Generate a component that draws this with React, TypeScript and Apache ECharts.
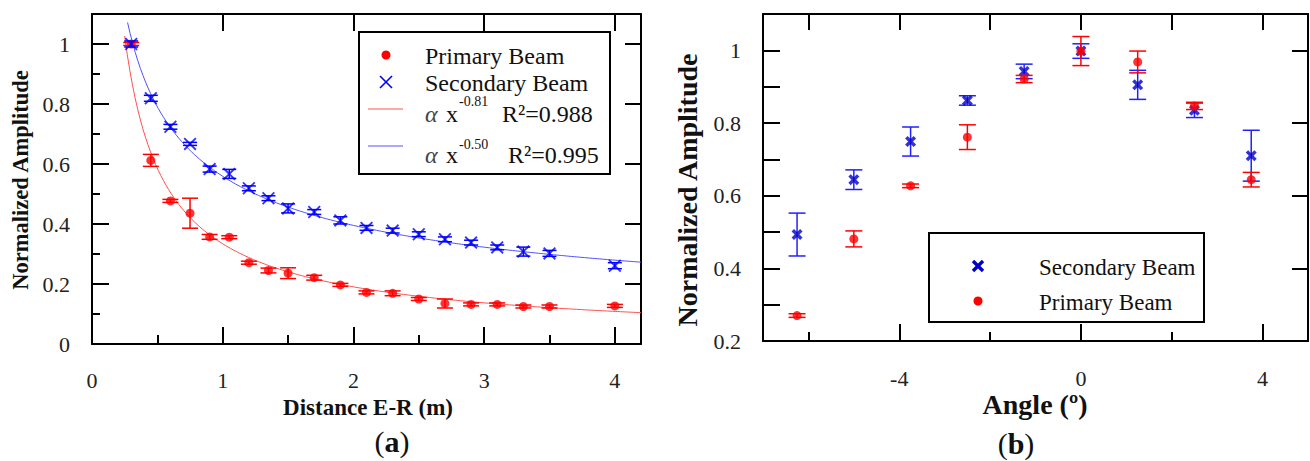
import React, { useEffect, useRef } from "react";
import * as echarts from "echarts";

// ---------- Data: panel (a) ----------
const distances = [0.3, 0.45, 0.6, 0.75, 0.9, 1.05, 1.2, 1.35, 1.5, 1.7, 1.9, 2.1, 2.3, 2.5, 2.7, 2.9, 3.1, 3.3, 3.5, 4.0];
const primaryByDistance = [1.0, 0.612, 0.477, 0.436, 0.357, 0.356, 0.271, 0.245, 0.236, 0.221, 0.197, 0.172, 0.169, 0.15, 0.135, 0.132, 0.132, 0.125, 0.125, 0.127];
const primaryByDistanceErr = [0.005, 0.02, 0.005, 0.05, 0.008, 0.005, 0.005, 0.008, 0.018, 0.008, 0.005, 0.005, 0.008, 0.005, 0.015, 0.005, 0.005, 0.005, 0.005, 0.005];
const secondaryByDistance = [1.0, 0.819, 0.724, 0.667, 0.583, 0.567, 0.519, 0.486, 0.452, 0.44, 0.412, 0.387, 0.378, 0.366, 0.349, 0.338, 0.322, 0.308, 0.302, 0.261];
const secondaryByDistanceErr = [0.01, 0.01, 0.008, 0.005, 0.01, 0.015, 0.008, 0.008, 0.015, 0.008, 0.012, 0.008, 0.008, 0.008, 0.008, 0.008, 0.008, 0.015, 0.01, 0.01];

// power-law fits shown in the legend: alpha * x^exponent
const primaryFit = { alpha: 0.334, exponent: -0.81, from: 0.25, to: 4.2 };
const secondaryFit = { alpha: 0.559, exponent: -0.5, from: 0.272, to: 4.2 };

// ---------- Data: panel (b) ----------
const angles = [-6.25, -5, -3.75, -2.5, -1.25, 0, 1.25, 2.5, 3.75];
const secondaryByAngle = [0.493, 0.644, 0.749, 0.862, 0.942, 0.998, 0.905, 0.835, 0.71];
const secondaryByAngleErr = [0.059, 0.027, 0.04, 0.013, 0.02, 0.02, 0.04, 0.02, 0.07];
const primaryByAngle = [0.27, 0.481, 0.627, 0.761, 0.921, 0.998, 0.968, 0.847, 0.644];
const primaryByAngleErr = [0.005, 0.022, 0.005, 0.034, 0.01, 0.04, 0.03, 0.01, 0.02];

// ---------- Ticks ----------
const aXLabels = [0, 1, 2, 3, 4];
const aXMajor = [1, 2, 3, 4];
const aXMinor = [0.5, 1.5, 2.5, 3.5];
const aYLabels = [0, 0.2, 0.4, 0.6, 0.8, 1];
const aYMajor = [0.2, 0.4, 0.6, 0.8, 1];
const aYMinor = [0.1, 0.3, 0.5, 0.7, 0.9];
const bXLabels = [-4, 0, 4];
const bXMinor = [-6, -2, 2];
const bXTop = [-6, -4, -2, 0, 2, 4];
const bYLabels = [0.2, 0.4, 0.6, 0.8, 1];
const bYTicks = [0.3, 0.4, 0.5, 0.6, 0.7, 0.8, 0.9, 1];
const bYRight = [0.4, 0.6, 0.8, 1];

const FONT = "Liberation Serif";
const RED = "#ff0000";
const BLUE = "#0000ff";
const NAVY = "#0000c8";

const X_THIN = "path://M1,0 L5,4 L9,0 L10,1 L6,5 L10,9 L9,10 L5,6 L1,10 L0,9 L4,5 L0,1 Z";
const X_BOLD = "path://M2.2,0 L5,2.8 L7.8,0 L10,2.2 L7.2,5 L10,7.8 L7.8,10 L5,7.2 L2.2,10 L0,7.8 L2.8,5 L0,2.2 Z";

function fitCurve(f: { alpha: number; exponent: number; from: number; to: number }) {
  const pts: number[][] = [];
  const n = 200;
  for (let i = 0; i <= n; i++) {
    const x = f.from + ((f.to - f.from) * i) / n;
    pts.push([x, f.alpha * Math.pow(x, f.exponent)]);
  }
  return pts;
}

function triples(xs: number[], ys: number[], es: number[]) {
  return xs.map((x, i) => [x, ys[i], es[i]]);
}

function errorRender(color: string, capHalf: number, width: number) {
  return (params: any, api: any) => {
    const x = api.value(0);
    const y = api.value(1);
    const e = api.value(2);
    const hi = api.coord([x, y + e]);
    const lo = api.coord([x, y - e]);
    const st = { stroke: color, lineWidth: width };
    return {
      type: "group",
      children: [
        { type: "line", shape: { x1: hi[0], y1: hi[1], x2: lo[0], y2: lo[1] }, style: st },
        { type: "line", shape: { x1: hi[0] - capHalf, y1: hi[1], x2: hi[0] + capHalf, y2: hi[1] }, style: st },
        { type: "line", shape: { x1: lo[0] - capHalf, y1: lo[1], x2: lo[0] + capHalf, y2: lo[1] }, style: st },
      ],
    };
  };
}

const axLine = { show: true, onZero: false, lineStyle: { color: "#000", width: 2 } };
const noLine = { show: false, onZero: false };
const tick = (vals: number[], len: number) => ({
  show: true,
  inside: true,
  length: len,
  customValues: vals,
  lineStyle: { color: "#000", width: 2 },
});
const label = (vals: number[], margin: number) => ({
  show: true,
  customValues: vals,
  margin,
  fontSize: 22,
  fontFamily: FONT,
  color: "#222",
});
const noLabel = { show: false };

function xAx(grid: number, min: number, max: number, position: string, line: any, t: any, l: any) {
  return { gridIndex: grid, type: "value", min, max, position, axisLine: line, axisTick: t, axisLabel: l, splitLine: { show: false } };
}
function yAx(grid: number, min: number, max: number, position: string, line: any, t: any, l: any) {
  return { gridIndex: grid, type: "value", min, max, position, axisLine: line, axisTick: t, axisLabel: l, splitLine: { show: false } };
}

function xGlyph(cx: number, cy: number, h: number, w: number, color: string) {
  return [
    { type: "line", shape: { x1: cx - h, y1: cy - h, x2: cx + h, y2: cy + h }, style: { stroke: color, lineWidth: w } },
    { type: "line", shape: { x1: cx - h, y1: cy + h, x2: cx + h, y2: cy - h }, style: { stroke: color, lineWidth: w } },
  ];
}

function txt(x: number, y: number, text: string, size: number, extra: any = {}) {
  return {
    type: "text",
    x,
    y,
    style: { text, fontSize: size, fontFamily: FONT, fill: "#111", verticalAlign: "middle", align: "left", ...extra },
  };
}

export default function App() {
  const ref = useRef<HTMLDivElement>(null);

  useEffect(() => {
    if (!ref.current) return;
    const chart = echarts.init(ref.current, null, { renderer: "svg" });

    const graphic: any[] = [
      // Left legend
      { type: "rect", shape: { x: 359, y: 32, width: 251, height: 142 }, style: { fill: "#fff", stroke: "#000", lineWidth: 2 }, z: 100 },
      { type: "circle", shape: { cx: 386, cy: 55, r: 4.5 }, style: { fill: RED }, z: 101 },
      ...xGlyph(386, 82, 6, 1.6, BLUE).map((g) => ({ ...g, z: 101 })),
      { type: "line", shape: { x1: 368, y1: 109, x2: 403, y2: 109 }, style: { stroke: "#ff8c8c", lineWidth: 1.5 }, z: 101 },
      { type: "line", shape: { x1: 368, y1: 146, x2: 403, y2: 146 }, style: { stroke: "#8c8cff", lineWidth: 1.5 }, z: 101 },
      { ...txt(425, 56, "Primary Beam", 24), z: 101 },
      { ...txt(425, 83, "Secondary Beam", 24), z: 101 },
      { ...txt(425, 114, "\u03b1", 24, { fontStyle: "italic", fill: "#444" }), z: 101 },
      { ...txt(446, 114, "x", 24), z: 101 },
      { ...txt(459, 101, "-0.81", 14), z: 101 },
      { ...txt(502, 114, "R\u00b2=0.988", 24), z: 101 },
      { ...txt(425, 155, "\u03b1", 24, { fontStyle: "italic", fill: "#444" }), z: 101 },
      { ...txt(446, 155, "x", 24), z: 101 },
      { ...txt(459, 144, "-0.50", 14), z: 101 },
      { ...txt(508, 155, "R\u00b2=0.995", 24), z: 101 },

      // Right legend
      { type: "rect", shape: { x: 929, y: 233, width: 275, height: 89 }, style: { fill: "#fff", stroke: "#000", lineWidth: 2 }, z: 100 },
      ...xGlyph(978, 266, 5, 3.4, NAVY).map((g) => ({ ...g, z: 101 })),
      { type: "circle", shape: { cx: 978, cy: 301, r: 4.5 }, style: { fill: RED }, z: 101 },
      { ...txt(1039, 267, "Secondary Beam", 23), z: 101 },
      { ...txt(1039, 302, "Primary Beam", 23), z: 101 },

      // Axis titles
      { type: "text", x: 20, y: 180, rotation: Math.PI / 2, style: { text: "Normalized Amplitude", fontSize: 22.5, fontWeight: "bold", fontFamily: FONT, fill: "#111", align: "center", verticalAlign: "middle" } },
      { type: "text", x: 687, y: 190, rotation: Math.PI / 2, style: { text: "Normalized Amplitude", fontSize: 28, fontWeight: "bold", fontFamily: FONT, fill: "#111", align: "center", verticalAlign: "middle" } },
      { type: "text", x: 368, y: 407, style: { text: "Distance E-R (m)", fontSize: 23, fontWeight: "bold", fontFamily: FONT, fill: "#111", align: "center", verticalAlign: "middle" } },
      { type: "text", x: 1035, y: 404, style: { text: "Angle (\u00ba)", fontSize: 28, fontWeight: "bold", fontFamily: FONT, fill: "#111", align: "center", verticalAlign: "middle" } },
      {
        type: "text", x: 392, y: 441,
        style: {
          text: "{p|(}{b|a}{p|)}", align: "center", verticalAlign: "middle",
          rich: {
            p: { fontSize: 30, fontFamily: FONT, fill: "#111" },
            b: { fontSize: 30, fontFamily: FONT, fontWeight: "bold", fill: "#111" },
          },
        },
      },
      {
        type: "text", x: 1016, y: 443,
        style: {
          text: "{p|(}{b|b}{p|)}", align: "center", verticalAlign: "middle",
          rich: {
            p: { fontSize: 30, fontFamily: FONT, fill: "#111" },
            b: { fontSize: 30, fontFamily: FONT, fontWeight: "bold", fill: "#111" },
          },
        },
      },
    ];

    const option: any = {
      animation: false,
      backgroundColor: "#fff",
      textStyle: { fontFamily: FONT },
      grid: [
        { left: 92, top: 14, width: 549, height: 330 },
        { left: 763, top: 14, width: 545, height: 327 },
      ],
      xAxis: [
        xAx(0, 0, 4.2, "bottom", axLine, tick(aXMajor, 17), label(aXLabels, 25)),
        xAx(0, 0, 4.2, "bottom", noLine, tick(aXMinor, 9), noLabel),
        xAx(0, 0, 4.2, "top", axLine, tick(aXMajor, 17), noLabel),
        xAx(1, -7, 5, "bottom", axLine, tick(bXLabels, 17), label(bXLabels, 26)),
        xAx(1, -7, 5, "bottom", noLine, tick(bXMinor, 9), noLabel),
        xAx(1, -7, 5, "top", axLine, tick(bXTop, 16), noLabel),
      ],
      yAxis: [
        yAx(0, 0, 1.1, "left", axLine, tick(aYMajor, 17), label(aYLabels, 22)),
        yAx(0, 0, 1.1, "left", noLine, tick(aYMinor, 8), noLabel),
        yAx(0, 0, 1.1, "right", axLine, tick(aYMajor, 16), noLabel),
        yAx(1, 0.2, 1.1, "left", axLine, tick(bYTicks, 17), label(bYLabels, 22)),
        yAx(1, 0.2, 1.1, "right", axLine, tick(bYRight, 16), noLabel),
      ],
      series: [
        // Panel (a)
        { type: "line", xAxisIndex: 0, yAxisIndex: 0, data: fitCurve(primaryFit), showSymbol: false, symbol: "none", lineStyle: { color: "#ff5050", width: 1 }, z: 2 },
        { type: "line", xAxisIndex: 0, yAxisIndex: 0, data: fitCurve(secondaryFit), showSymbol: false, symbol: "none", lineStyle: { color: "#5050ff", width: 1 }, z: 2 },
        { type: "custom", xAxisIndex: 0, yAxisIndex: 0, data: triples(distances, primaryByDistance, primaryByDistanceErr), renderItem: errorRender(RED, 8, 1.5), encode: { x: 0, y: 1 }, z: 3 },
        { type: "scatter", xAxisIndex: 0, yAxisIndex: 0, data: distances.map((d, i) => [d, primaryByDistance[i]]), symbol: "circle", symbolSize: 9, itemStyle: { color: RED }, z: 4 },
        { type: "custom", xAxisIndex: 0, yAxisIndex: 0, data: triples(distances, secondaryByDistance, secondaryByDistanceErr), renderItem: errorRender(BLUE, 7, 1.5), encode: { x: 0, y: 1 }, z: 5 },
        { type: "scatter", xAxisIndex: 0, yAxisIndex: 0, data: distances.map((d, i) => [d, secondaryByDistance[i]]), symbol: X_THIN, symbolSize: 13, itemStyle: { color: BLUE }, z: 6 },
        // Panel (b)
        { type: "custom", xAxisIndex: 3, yAxisIndex: 3, data: triples(angles, secondaryByAngle, secondaryByAngleErr), renderItem: errorRender("#2020ff", 8.5, 1.5), encode: { x: 0, y: 1 }, z: 3 },
        { type: "scatter", xAxisIndex: 3, yAxisIndex: 3, data: angles.map((a, i) => [a, secondaryByAngle[i]]), symbol: X_BOLD, symbolSize: 11, itemStyle: { color: NAVY }, z: 4 },
        { type: "custom", xAxisIndex: 3, yAxisIndex: 3, data: triples(angles, primaryByAngle, primaryByAngleErr), renderItem: errorRender(RED, 8.5, 1.5), encode: { x: 0, y: 1 }, z: 5 },
        { type: "scatter", xAxisIndex: 3, yAxisIndex: 3, data: angles.map((a, i) => [a, primaryByAngle[i]]), symbol: "circle", symbolSize: 9, itemStyle: { color: RED }, z: 6 },
      ],
      graphic,
    };

    chart.setOption(option);
    return () => chart.dispose();
  }, []);

  return <div ref={ref} style={{ position: "absolute", left: 0, top: 0, width: 1310, height: 461, background: "#fff" }} />;
}
